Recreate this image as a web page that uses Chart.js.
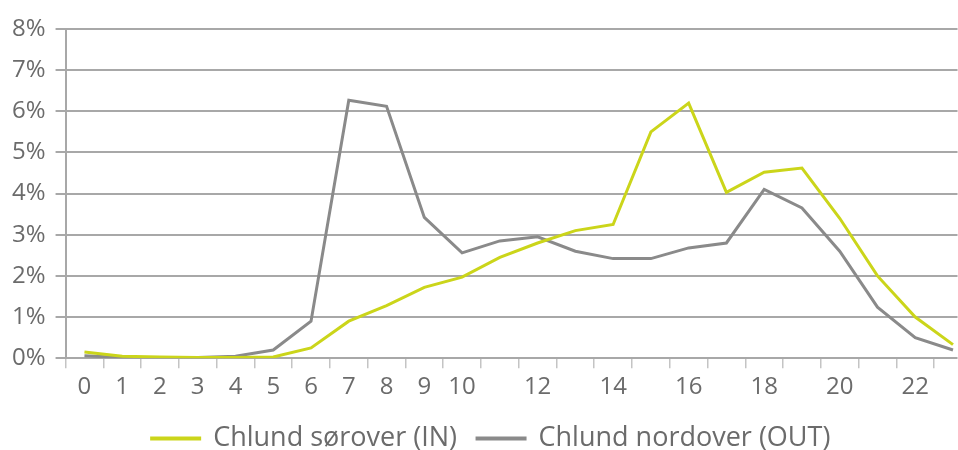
<!DOCTYPE html>
<html>
<head>
<meta charset="utf-8">
<script src="https://cdn.jsdelivr.net/npm/chart.js@4/dist/chart.umd.min.js"></script>
<style>
  html, body { margin: 0; padding: 0; background: #fff; }
  #wrap { width: 958px; height: 450px; overflow: hidden; }
</style>
</head>
<body>
<div id="wrap"><canvas id="chart"></canvas></div>
<script>
// hours of the day
const hours = [0,1,2,3,4,5,6,7,8,9,10,11,12,13,14,15,16,17,18,19,20,21,22,23];
// labels actually printed under the axis
const hourLabels = [0,1,2,3,4,5,6,7,8,9,10,12,14,16,18,20,22];
const yTicks = [0,1,2,3,4,5,6,7,8];

// share of daily traffic, %
const inValues  = [0.15,0.05,0.03,0.02,0.02,0.03,0.25,0.9,1.28,1.72,1.97,2.45,2.8,3.1,3.25,5.5,6.2,4.03,4.52,4.62,3.4,2.0,1.0,0.33];
const outValues = [0.06,0.02,0.02,0.02,0.05,0.2,0.9,6.27,6.12,3.42,2.56,2.85,2.95,2.6,2.42,2.42,2.68,2.8,4.1,3.65,2.6,1.24,0.5,0.2];

const seriesNames = ['Chlund sørover (IN)', 'Chlund nordover (OUT)'];

const GREEN = '#cbd51a';
const GREY = '#8a8a8a';
const TXT = '#6b6b6b';
const FONT = 'Open Sans';

const ds = (name, vals, col) => ({
    label: name,
    data: hours.map((h, i) => ({ x: h, y: vals[i] })),
    borderColor: col,
    backgroundColor: col,
    borderWidth: 3,
    pointRadius: 0,
    tension: 0
});

new Chart(document.getElementById('chart'), {
    type: 'line',
    data: {
        datasets: [
            ds(seriesNames[0], inValues, GREEN),
            ds(seriesNames[1], outValues, GREY)
        ]
    },
    options: {
        responsive: true,
        maintainAspectRatio: false,
        animation: false,
        // negative right padding nudges the legend right, like the cropped original
        layout: { padding: { top: 29, left: 2, right: -22, bottom: -12 } },
        plugins: {
            tooltip: { enabled: false },
            legend: {
                position: 'bottom',
                labels: {
                    color: TXT,
                    font: { family: FONT, size: 27 },
                    boxWidth: 48,
                    boxHeight: 1,
                    padding: 20
                }
            }
        },
        scales: {
            x: {
                type: 'linear',
                min: -0.5,
                max: 23.12,
                afterBuildTicks: axis => {
                    const t = [];
                    for (let v = -0.5; v <= 23; v += 0.5) t.push({ value: v });
                    axis.ticks = t;
                },
                afterFit: axis => { axis.height -= 2; },
                border: { display: false },
                grid: {
                    drawOnChartArea: false,
                    tickLength: 10,
                    lineWidth: 1.5,
                    color: c => (c.tick && Math.abs(c.tick.value % 1) === 0.5) ? '#c4c4c4' : 'rgba(0,0,0,0)'
                },
                ticks: {
                    autoSkip: false,
                    maxRotation: 0,
                    padding: 5,
                    color: TXT,
                    font: { family: FONT, size: 24 },
                    callback: v => hourLabels.includes(v) ? String(v) : ''
                }
            },
            y: {
                min: 0,
                max: 8,
                afterBuildTicks: axis => { axis.ticks = yTicks.map(v => ({ value: v })); },
                border: { display: true, color: '#a8a8a8', width: 2 },
                grid: {
                    color: '#a8a8a8',
                    lineWidth: 2,
                    tickLength: 10
                },
                ticks: {
                    color: TXT,
                    padding: 10,
                    font: { family: FONT, size: 24 },
                    callback: v => v + '%'
                }
            }
        }
    }
});
</script>
</body>
</html>
